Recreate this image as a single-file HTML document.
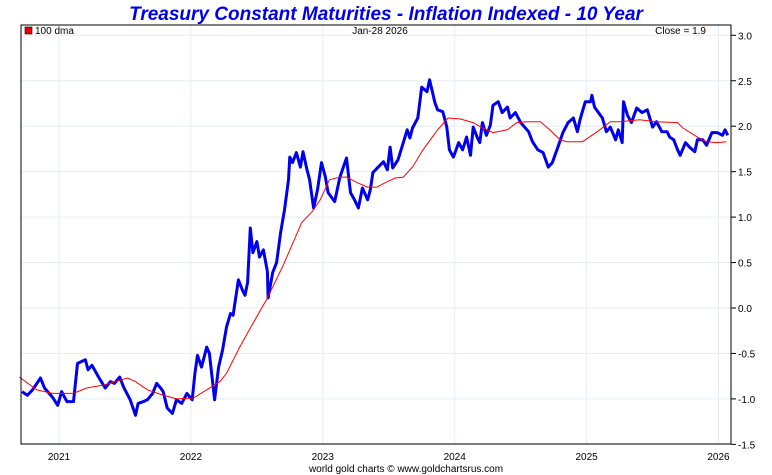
<!DOCTYPE html>
<html><head><meta charset="utf-8"><style>
html,body{margin:0;padding:0;background:#fff;}
svg{display:block;font-family:"Liberation Sans",sans-serif;}
</style></head><body>
<svg id="chart" width="772" height="475">
<text x="386" y="20" text-anchor="middle" font-size="19" font-weight="bold" font-style="italic" fill="#0000ee">Treasury Constant Maturities - Inflation Indexed - 10 Year</text>
<g id="grid"></g>
<g id="series"></g>
<rect x="21" y="25" width="710" height="419" fill="none" stroke="#000" stroke-width="1"/>
<g id="axes"></g>
<rect x="25" y="27" width="7" height="7" fill="#e00" stroke="#000" stroke-width="0.6"/>
<text x="35" y="34" font-size="10" fill="#000">100 dma</text>
<text x="380" y="34" text-anchor="middle" font-size="10" fill="#000">Jan-28  2026</text>
<text x="706" y="34" text-anchor="end" font-size="10" fill="#000">Close = 1.9</text>
<text x="406" y="472" text-anchor="middle" font-size="10" fill="#000">world gold charts © www.goldchartsrus.com</text>
</svg>
<script>
const yTicks=[3.0,2.5,2.0,1.5,1.0,0.5,0.0,-0.5,-1.0,-1.5];
const xYears=[2021,2022,2023,2024,2025,2026];
const blueDates=[2020.72,2020.76,2020.80,2020.86,2020.89,2020.95,2020.99,2021.02,2021.06,2021.11,2021.14,2021.20,2021.22,2021.25,2021.30,2021.35,2021.39,2021.42,2021.46,2021.49,2021.54,2021.58,2021.60,2021.64,2021.67,2021.71,2021.74,2021.77,2021.79,2021.82,2021.86,2021.89,2021.93,2021.97,2022.01,2022.03,2022.05,2022.08,2022.12,2022.14,2022.18,2022.21,2022.24,2022.27,2022.30,2022.32,2022.36,2022.39,2022.41,2022.43,2022.45,2022.47,2022.50,2022.52,2022.55,2022.58,2022.585,2022.62,2022.65,2022.68,2022.71,2022.74,2022.75,2022.77,2022.80,2022.83,2022.85,2022.88,2022.90,2022.93,2022.96,2022.99,2023.02,2023.04,2023.09,2023.13,2023.18,2023.21,2023.24,2023.27,2023.30,2023.34,2023.36,2023.38,2023.42,2023.46,2023.49,2023.51,2023.53,2023.57,2023.61,2023.64,2023.66,2023.68,2023.72,2023.75,2023.79,2023.81,2023.85,2023.87,2023.91,2023.94,2023.96,2023.99,2024.03,2024.06,2024.09,2024.12,2024.14,2024.17,2024.19,2024.21,2024.24,2024.27,2024.29,2024.33,2024.36,2024.40,2024.42,2024.46,2024.50,2024.53,2024.56,2024.59,2024.63,2024.67,2024.71,2024.74,2024.78,2024.82,2024.86,2024.90,2024.93,2024.95,2024.99,2025.03,2025.04,2025.06,2025.09,2025.12,2025.15,2025.18,2025.22,2025.24,2025.27,2025.28,2025.31,2025.34,2025.38,2025.42,2025.46,2025.50,2025.53,2025.57,2025.61,2025.63,2025.66,2025.69,2025.71,2025.75,2025.78,2025.82,2025.84,2025.88,2025.91,2025.95,2025.99,2026.03,2026.05,2026.07];
const blueValues=[-0.92,-0.96,-0.90,-0.77,-0.88,-0.98,-1.07,-0.92,-1.03,-1.03,-0.61,-0.57,-0.68,-0.63,-0.76,-0.88,-0.81,-0.83,-0.76,-0.87,-1.01,-1.18,-1.05,-1.03,-1.01,-0.94,-0.83,-0.88,-0.92,-1.10,-1.16,-1.01,-1.05,-0.94,-1.01,-0.72,-0.52,-0.65,-0.43,-0.50,-1.01,-0.65,-0.46,-0.21,-0.06,-0.08,0.31,0.20,0.14,0.28,0.88,0.61,0.73,0.56,0.64,0.40,0.11,0.39,0.50,0.83,1.08,1.41,1.66,1.60,1.71,1.55,1.72,1.52,1.41,1.10,1.30,1.60,1.44,1.27,1.17,1.44,1.65,1.27,1.19,1.10,1.32,1.19,1.30,1.49,1.55,1.61,1.52,1.77,1.54,1.63,1.82,1.96,1.87,1.98,2.09,2.43,2.38,2.51,2.26,2.18,2.16,1.99,1.74,1.66,1.82,1.74,1.88,1.68,1.99,1.88,1.82,2.04,1.90,2.01,2.23,2.27,2.15,2.21,2.09,2.15,2.04,1.99,1.94,1.83,1.74,1.71,1.55,1.60,1.76,1.93,2.04,2.09,1.94,2.07,2.27,2.27,2.34,2.21,2.15,2.09,1.94,1.99,1.85,1.96,1.82,2.27,2.12,2.04,2.20,2.15,2.18,1.99,2.05,1.94,1.94,1.88,1.85,1.74,1.68,1.82,1.77,1.72,1.85,1.85,1.79,1.93,1.93,1.90,1.96,1.90];
const maDates=[2020.70,2020.83,2020.95,2021.11,2021.21,2021.33,2021.52,2021.58,2021.67,2021.77,2021.89,2022.02,2022.12,2022.22,2022.27,2022.37,2022.47,2022.58,2022.70,2022.84,2022.92,2022.98,2023.05,2023.13,2023.18,2023.26,2023.34,2023.41,2023.49,2023.55,2023.61,2023.68,2023.76,2023.87,2023.95,2024.04,2024.14,2024.21,2024.29,2024.40,2024.47,2024.55,2024.65,2024.72,2024.80,2024.85,2024.97,2025.08,2025.18,2025.25,2025.40,2025.53,2025.69,2025.73,2025.84,2025.91,2025.99,2026.06];
const maValues=[-0.76,-0.90,-0.94,-0.94,-0.88,-0.85,-0.77,-0.81,-0.90,-0.95,-1.00,-0.99,-0.90,-0.81,-0.72,-0.43,-0.17,0.11,0.47,0.94,1.06,1.19,1.41,1.44,1.44,1.38,1.33,1.33,1.39,1.43,1.44,1.55,1.74,1.96,2.09,2.08,2.04,1.98,1.93,1.96,2.04,2.05,2.05,1.96,1.85,1.83,1.83,1.94,2.05,2.05,2.07,2.05,2.04,1.98,1.88,1.83,1.82,1.83];

const NS='http://www.w3.org/2000/svg';
const L=21,R=731,T=25,B=444;
function xs(y){return 59+(y-2021)*131.9;}
function ys(v){return 308-v*90.9;}
const grid=document.getElementById('grid'),axes=document.getElementById('axes'),ser=document.getElementById('series');
function mk(tag,attrs,parent){const e=document.createElementNS(NS,tag);for(const k in attrs)e.setAttribute(k,attrs[k]);parent.appendChild(e);return e;}
yTicks.forEach(v=>{
  const y=ys(v);
  const g=mk('line',{x1:L,x2:R,y1:y,y2:y,stroke:'#e4eef6','stroke-width':1},grid);
  
  
  const t=mk('line',{x1:R,x2:R+5,y1:y,y2:y,stroke:'#000','stroke-width':1},axes);
  
  
  const tx=mk('text',{x:R+7,y:y+4,'font-size':10,fill:'#000'},axes);
  tx.textContent=v.toFixed(1);
  
  
});
xYears.forEach(yr=>{
  const x=xs(yr);
  const g=mk('line',{x1:x,x2:x,y1:T,y2:B,stroke:'#e4eef6','stroke-width':1},grid);
  
  
  const tx=mk('text',{x:x,y:460,'font-size':10,'text-anchor':'middle',fill:'#000'},axes);
  tx.textContent=String(yr);
  
  
});
function path(d,v){return d.map((t,i)=>(i?'L':'M')+xs(t).toFixed(1)+','+ys(v[i]).toFixed(1)).join(' ');}
const blue=mk('path',{d:path(blueDates,blueValues),fill:'none',stroke:'#0000ee','stroke-width':3,'stroke-linejoin':'round'},ser);


const red=mk('path',{d:path(maDates,maValues),fill:'none',stroke:'#ff0000','stroke-width':1},ser);


</script>
</body></html>
